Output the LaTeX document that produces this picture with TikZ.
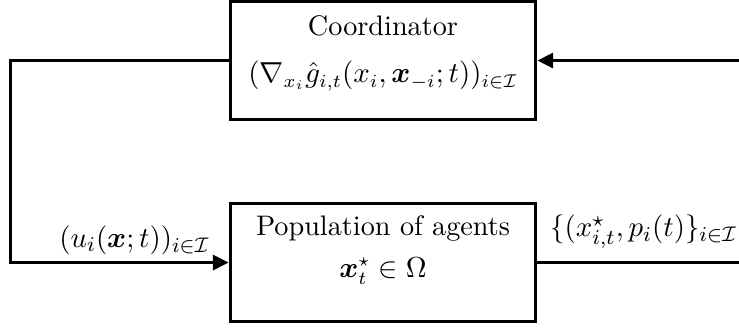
\documentclass[tikz,border=0pt]{standalone}
\usepackage{amsmath}
\usepackage{amssymb}
\usepackage{tikz}
\usetikzlibrary{arrows.meta,positioning}
\tikzset{
  block/.style={
    draw=black,
    line width=1.4pt,
    fill=white,
    minimum width=4.06cm,
    minimum height=1.57cm,
    inner sep=0pt
  },
  blocktext/.style={align=center, font=\fontsize{10.7pt}{13pt}\selectfont, inner sep=1pt},
  sigline/.style={line width=1.4pt, draw=black},
  sigarrow/.style={sigline, -{Triangle[length=6pt, width=5.6pt]}},
  siglabel/.style={font=\fontsize{10.8pt}{13pt}\selectfont, inner sep=1pt}
}

\begin{document}
\begin{tikzpicture}[x=1cm,y=1cm]
\path[use as bounding box] (0,0) rectangle (9.84,4.366);

\node[block] (coord) at (5.10,3.56) {};
\node[block] (pop) at (5.10,0.87) {};

\node[blocktext] (coordtxt) at ([yshift=0.10cm]coord.center) {Coordinator\\[5pt]
  $(\nabla_{x_i}\hat{g}_{i,t}(x_i,\boldsymbol{x}_{-i};t))_{i\in\mathcal{I}}$};
\node[blocktext] (poptxt) at ([yshift=0.17cm]pop.center) {Population of agents\\[3pt]
  $\boldsymbol{x}_t^\star\in\Omega$};

\coordinate (loopleft) at (0.14,0.87);
\coordinate (fbin) at (9.84,3.56);
\coordinate (fbout) at (9.84,0.87);

\draw[sigarrow] (coord.west) -| (loopleft) -- (pop.west);
\draw[sigarrow] (fbin) -- (coord.east);
\draw[sigline] (pop.east) -- (fbout);

\node[siglabel, above left=0.06cm and 0.21cm of pop.west] (ulab) {$(u_i(\boldsymbol{x};t))_{i\in\mathcal{I}}$};
\node[siglabel, above right=0.14cm and 0.13cm of pop.east] (xlab) {$\{(x^\star_{i,t},p_i(t)\}_{i\in\mathcal{I}}$};

\end{tikzpicture}
\end{document}
